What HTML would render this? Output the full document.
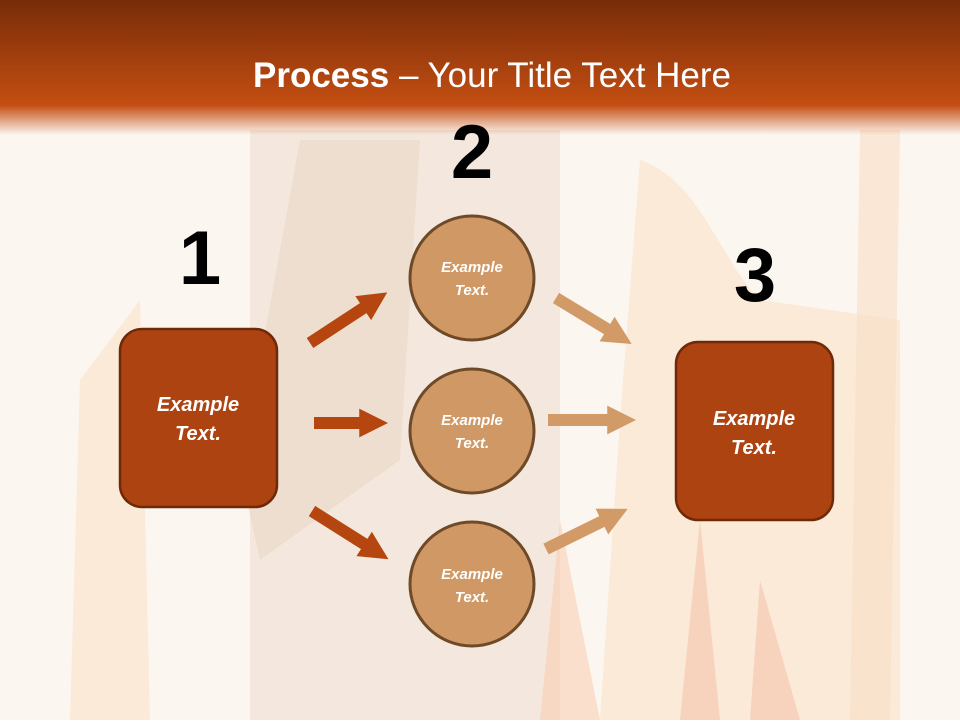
<!DOCTYPE html>
<html><head><meta charset="utf-8"><style>
body{margin:0;width:960px;height:720px;overflow:hidden;font-family:"Liberation Sans",sans-serif;}
</style></head><body>
<svg width="960" height="720" viewBox="0 0 960 720" xmlns="http://www.w3.org/2000/svg">
<defs>
<linearGradient id="hd" x1="0" y1="0" x2="0" y2="1">
<stop offset="0" stop-color="#772c09"/>
<stop offset="0.78" stop-color="#c44e12"/>
<stop offset="1" stop-color="#c44e12" stop-opacity="0"/>
</linearGradient>
<marker id="a1" viewBox="0 0 10 10" refX="2" refY="5" markerWidth="2.4" markerHeight="2.6" orient="auto"><path d="M0,0 L10,5 L0,10z" fill="#b5460f"/></marker>
<marker id="a2" viewBox="0 0 10 10" refX="2" refY="5" markerWidth="2.4" markerHeight="2.6" orient="auto"><path d="M0,0 L10,5 L0,10z" fill="#d29a66"/></marker>
</defs>
<rect width="960" height="720" fill="#fcf6f1"/>
<path d="M250,130 L560,130 L560,720 L250,720z" fill="#efe0d2" opacity="0.6"/>
<path d="M300,140 L420,140 L400,460 L260,560 L240,470z" fill="#e6d2bf" opacity="0.45"/>
<path d="M640,160 C700,180 720,260 760,300 L900,320 L900,720 L600,720 L620,420z" fill="#fae6cc" opacity="0.7"/>
<path d="M80,380 L140,300 L150,720 L70,720z" fill="#fbe5cc" opacity="0.7"/>
<path d="M860,130 L900,130 L890,720 L850,720z" fill="#f9dec4" opacity="0.6"/>
<path d="M560,520 L600,720 L540,720z" fill="#f7c8a8" opacity="0.5"/>
<path d="M700,520 L720,720 L680,720z" fill="#f5b8a0" opacity="0.45"/>
<path d="M760,580 L800,720 L750,720z" fill="#f5b8a0" opacity="0.45"/>
<rect x="0" y="0" width="960" height="135" fill="url(#hd)"/>
<text x="492" y="87" text-anchor="middle" fill="#fff" font-size="35"><tspan font-weight="bold">Process</tspan> – Your Title Text Here</text>
<g font-weight="bold" font-size="76" text-anchor="middle" fill="#000">
<text x="200" y="284">1</text><text x="472" y="178">2</text><text x="755" y="301">3</text>
</g>
<g stroke-width="12" fill="none">
<line x1="310" y1="343" x2="368" y2="305" stroke="#b5460f" marker-end="url(#a1)"/>
<line x1="314" y1="423" x2="365" y2="423" stroke="#b5460f" marker-end="url(#a1)"/>
<line x1="312" y1="511" x2="369" y2="547" stroke="#b5460f" marker-end="url(#a1)"/>
<line x1="556" y1="298" x2="612" y2="332" stroke="#d29a66" marker-end="url(#a2)"/>
<line x1="548" y1="420" x2="613" y2="420" stroke="#d29a66" marker-end="url(#a2)"/>
<line x1="546" y1="549" x2="607" y2="519" stroke="#d29a66" marker-end="url(#a2)"/>
</g>
<rect x="120" y="329" width="157" height="178" rx="22" fill="#ad4310" stroke="#6e2a08" stroke-width="2.5"/>
<rect x="676" y="342" width="157" height="178" rx="22" fill="#ad4310" stroke="#6e2a08" stroke-width="2.5"/>
<g fill="#cf9864" stroke="#6e4a28" stroke-width="3">
<circle cx="472" cy="278" r="62"/><circle cx="472" cy="431" r="62"/><circle cx="472" cy="584" r="62"/>
</g>
<g fill="#fff" font-weight="bold" font-style="italic" text-anchor="middle">
<text font-size="20" x="198" y="411">Example</text><text font-size="20" x="198" y="440">Text.</text>
<text font-size="20" x="754" y="425">Example</text><text font-size="20" x="754" y="454">Text.</text>
<text font-size="15" x="472" y="272">Example</text><text font-size="15" x="472" y="295">Text.</text>
<text font-size="15" x="472" y="425">Example</text><text font-size="15" x="472" y="448">Text.</text>
<text font-size="15" x="472" y="579">Example</text><text font-size="15" x="472" y="602">Text.</text>
</g>
</svg>
</body></html>
